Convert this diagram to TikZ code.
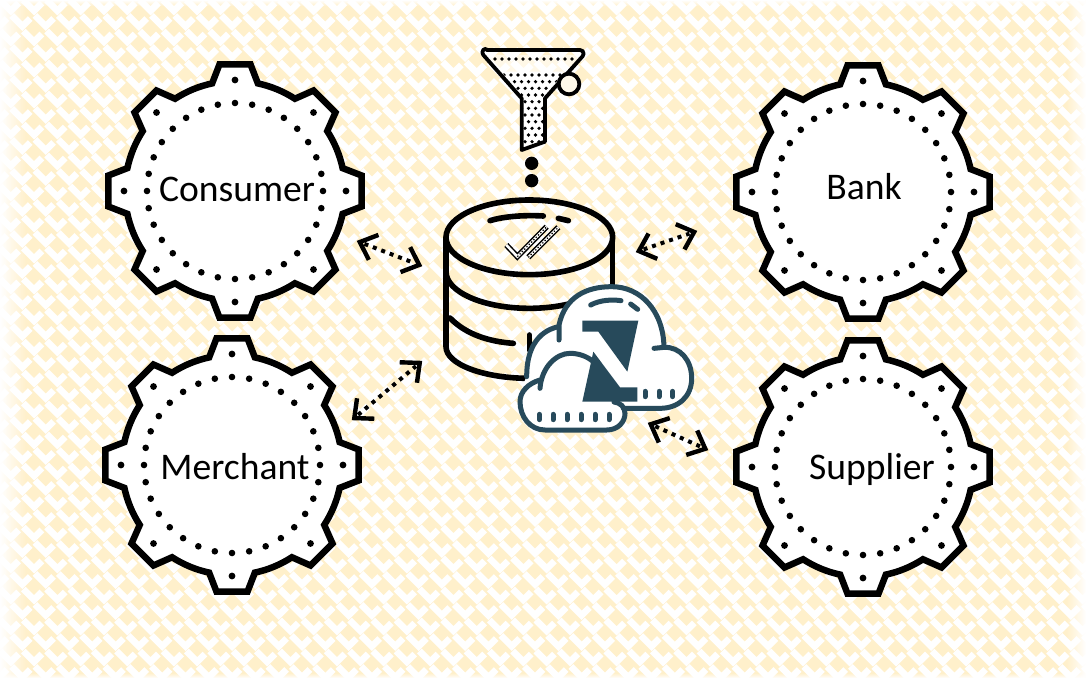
\documentclass[tikz,border=0pt]{standalone}
\usepackage{fontspec}
\setmainfont{Carlito}
\usetikzlibrary{calc,fadings}
\definecolor{bgyellow}{HTML}{FFF0CB}
\definecolor{teal}{HTML}{274A5B}
\newcommand{\gearbody}[2]{%
  \begin{scope}[shift={(#1,#2)}]
    \draw[gearline] (78:110)
      \foreach \a in {90,135,...,405}{
        -- ({\a-12}:110) -- ({\a-7}:127.5) -- ({\a+7}:127.5) -- ({\a+12}:110)
        arc[start angle={\a+12},end angle={\a+33},radius=110]
      } -- cycle;
    \foreach \a in {0,11.25,...,349} {\fill ({\a}:88) circle[radius=3.3];}
    \foreach \a in {0,45,...,315} {\fill ({\a}:111) circle[radius=3.4];}
  \end{scope}
}
\newcommand{\dbl}[2]{%
  \draw[arrowdots] ($(#1)!8pt!(#2)$) -- ($(#2)!8pt!(#1)$);
  \draw[arrowbarb] ($(#1)!3pt!(#2)!20pt!42:(#2)$) -- ($(#1)!3pt!(#2)$) -- ($(#1)!3pt!(#2)!20pt!-42:(#2)$);
  \draw[arrowbarb] ($(#2)!3pt!(#1)!20pt!42:(#1)$) -- ($(#2)!3pt!(#1)$) -- ($(#2)!3pt!(#1)!20pt!-42:(#1)$);
}
\tikzset{
  gearline/.style={draw=black,fill=white,line width=6.5pt,line join=miter},
  gearlabel/.style={inner sep=0pt,font=\fontsize{37.6}{40}\selectfont},
  arrowdots/.style={line width=4pt,dash pattern=on 4pt off 5pt},
  arrowbarb/.style={line width=4.4pt,line join=miter},
  dbline/.style={line width=5.6pt,line cap=round},
  cloudline/.style={draw=teal,line width=5pt,line cap=round},
  pill/.style={draw=teal,line width=5pt,line cap=round},
  weave/.style={white,line width=6.6pt,line join=miter},
}
\begin{document}
\begin{tikzpicture}[x=1pt,y=-1pt]
\useasboundingbox (0,0) rectangle (1086,678);
% background
\fill[bgyellow] (0,0) rectangle (1086,678);
\begin{scope}
\clip (0,0) rectangle (1086,678);
\foreach \i in {-2,...,48}{
  \foreach \j in {-1,...,45}{
    \pgfmathsetmacro{\px}{\i*23.3+mod(\j,2)*11.65}
    \pgfmathsetmacro{\py}{\j*15.5}
    \draw[weave] (\px,\py) -- ++(10.8,10.8) -- ++(7.8,-7.8);
  }
}
\end{scope}
\fill[white,path fading=east] (0,0) rectangle (26,678);
\fill[white,path fading=west] (1066,0) rectangle (1086,678);
\fill[white,path fading=south] (0,0) rectangle (1086,6);
\fill[white,path fading=north] (0,673) rectangle (1086,678);
% gears
\gearbody{235}{191}
\gearbody{232}{465}
\gearbody{863}{192}
\gearbody{863}{467}
\node[gearlabel] (consumer) at (237,189) {Consumer};
\node[gearlabel] (merchant) at (235,467) {Merchant};
\node[gearlabel] (bank) at (864,187) {Bank};
\node[gearlabel] (supplier) at (872,469) {Supplier};
% arrows
\coordinate (a1) at (357,241); \coordinate (b1) at (422,266);
\coordinate (a2) at (352,420); \coordinate (b2) at (422,361);
\coordinate (a3) at (636,252); \coordinate (b3) at (697,231);
\coordinate (a4) at (648,423); \coordinate (b4) at (708,450);
\dbl{a1}{b1}
\dbl{a2}{b2}
\dbl{a3}{b3}
\dbl{a4}{b4}
% centre icons in zoom coordinates
\begin{scope}[shift={(430,30)},x=0.33333pt,y=-0.33333pt]
  % funnel
  \fill[white,opacity=.55] (165,75) -- (275,205) -- (275,360) -- (345,335) -- (345,205) -- (455,75) -- cycle;
  \begin{scope}
    \clip (215,125) -- (400,125) -- (345,205) -- (345,335) -- (275,360) -- (275,205) -- cycle;
    \fill[white] (160,120) rectangle (460,370);
    \foreach \r in {0,...,10}{
      \foreach \c in {0,...,12}{
        \pgfmathsetmacro{\dx}{180+\c*21+mod(\r,2)*10.5}
        \pgfmathsetmacro{\dy}{135+\r*20}
        \fill (\dx,\dy) circle[radius=5.5];
      }
    }
  \end{scope}
  \foreach \c in {0,...,11}{\fill ({195+\c*21},87) circle[radius=5.5];}
  \draw[line width=3.8pt,line join=round] (170,60) -- (450,60) arc[start angle=-90,end angle=45,radius=11] -- (345,205) -- (345,335) -- (275,360) -- (275,205) -- (160,75) arc[start angle=135,end angle=270,radius=11] -- cycle;
  \draw[line width=3.8pt,fill=bgyellow!40] (417,162) circle[radius=31];
  \fill (305,400) circle[radius=20];
  \fill (305,452) circle[radius=20];
  % database
  \draw[dbline] (48,622) -- (48,950) arc[start angle=180,end angle=60,x radius=250,y radius=95];
  \draw[dbline] (548,622) -- (548,900);
  \draw[dbline] (298,622) ++(-250,0) arc[start angle=180,end angle=-180,x radius=250,y radius=112];
  \draw[dbline] (48,725) arc[start angle=180,end angle=50,x radius=250,y radius=110];
  \draw[dbline] (60,864) .. controls (110,915) and (180,935) .. (250,940);
  \draw[dbline] (298,915) -- (298,960);
  \draw[dbline] (180,572) .. controls (225,558) and (290,555) .. (340,558);
  \draw[dbline] (385,565) -- (415,572);
  % check mark
  \draw[line width=5.6pt,line join=miter] (229,645) -- (262,680) -- (350,590);
  \draw[white,line width=2.6pt] (229,645) -- (262,680) -- (350,590);
  \draw[line width=1.3pt,dash pattern=on 1.3pt off 2pt] (262,680) -- (350,590);
  \draw[line width=5.6pt] (295,682) -- (385,592);
  \draw[white,line width=2.6pt] (295,682) -- (385,592);
  \draw[line width=1.3pt,dash pattern=on 1.3pt off 2pt] (295,682) -- (385,592);
  % cloud fill
  \fill[white] (290,1040) .. controls (290,960) and (320,905) .. (385,890)
     .. controls (400,800) and (470,770) .. (545,770)
     .. controls (630,770) and (700,840) .. (702,950)
     .. controls (750,950) and (785,990) .. (785,1045)
     .. controls (785,1100) and (745,1135) .. (690,1135)
     -- (585,1135) -- (585,1150) .. controls (585,1175) and (565,1200) .. (530,1200)
     -- (345,1200) .. controls (300,1200) and (270,1160) .. (270,1115)
     .. controls (270,1085) and (280,1060) .. (290,1040) -- cycle;
  % back cloud lines
  \draw[cloudline] (387,930) -- (387,885) .. controls (405,800) and (470,770) .. (545,770)
     .. controls (630,770) and (700,840) .. (702,952);
  \draw[cloudline] (672,955) -- (702,952) .. controls (750,950) and (785,990) .. (785,1045)
     .. controls (785,1100) and (745,1135) .. (690,1135) -- (580,1135);
  \draw[cloudline] (385,890) .. controls (320,905) and (290,960) .. (290,1040);
  \draw[cloudline] (482,825) .. controls (510,810) and (545,808) .. (573,812);
  \draw[cloudline] (602,822) -- (623,838);
  % front cloud lines
  \draw[cloudline] (330,1075) .. controls (335,1010) and (380,970) .. (420,970)
     .. controls (445,970) and (470,978) .. (490,995);
  \draw[cloudline] (330,1050) .. controls (295,1060) and (270,1085) .. (270,1115)
     .. controls (270,1160) and (300,1200) .. (345,1200) -- (530,1200)
     .. controls (565,1200) and (585,1175) .. (585,1150)
     .. controls (585,1130) and (570,1118) .. (552,1116);
  % logo
  \fill[teal] (457,872) -- (625,872) -- (592,1025) -- (505,905) -- (457,905) -- cycle;
  \fill[teal] (490,965) -- (570,1072) -- (622,1072) -- (622,1115) -- (457,1115) -- cycle;
  % pills
  \foreach \px in {645,687,728}{\draw[pill] (\px,1084) -- (\px,1100);}
  \foreach \px in {328,369,411,453,495,537}{\draw[pill] (\px,1153) -- (\px,1169);}
\end{scope}
\end{tikzpicture}
\end{document}
